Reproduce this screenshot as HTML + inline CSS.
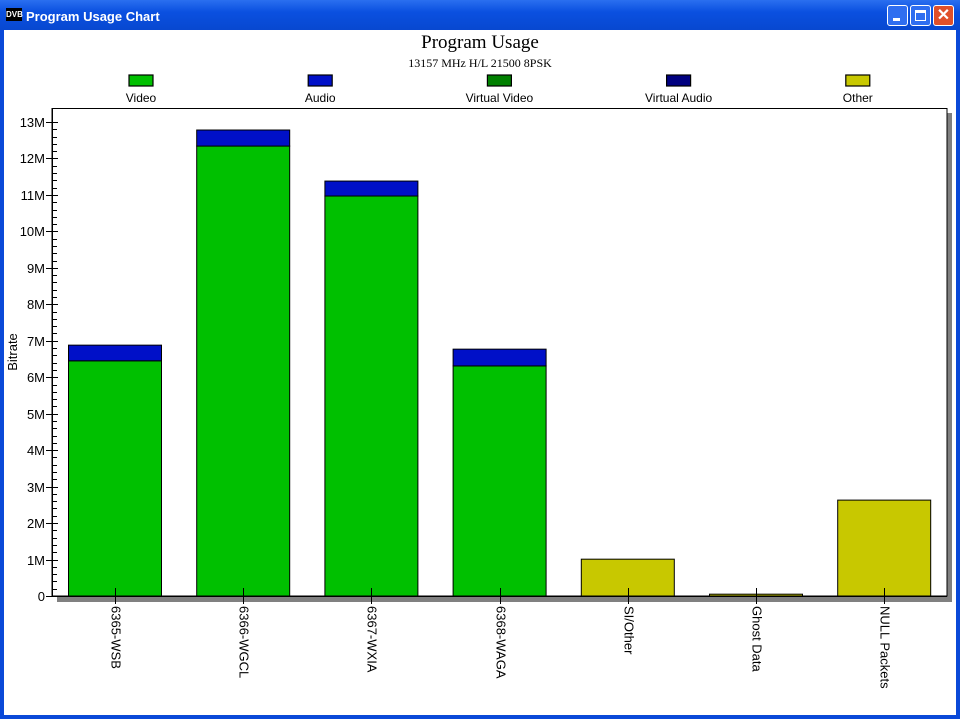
<!DOCTYPE html>
<html><head><meta charset="utf-8"><style>
body{margin:0;width:960px;height:719px;overflow:hidden;background:#fff;font-family:"Liberation Sans",sans-serif}
#win{position:absolute;left:0;top:0;width:960px;height:719px;background:#0a49d8}
#titlebar{position:absolute;left:0;top:0;width:960px;height:30px;background:linear-gradient(#2a6ff0,#0a50e0 40%,#0848d0);color:#fff;font:bold 13px "Liberation Sans",sans-serif}
#client{position:absolute;left:4px;top:30px;width:952px;height:685px;background:#fff}
.btn{position:absolute;top:5px;width:21px;height:21px;border:1px solid #fff;border-radius:3px;background:#2f6ef0;box-sizing:border-box}
</style></head><body>
<div id="win">
<div id="titlebar">
<div style="position:absolute;left:6px;top:8px;width:16px;height:13px;background:#000;color:#fff;font-size:8px;line-height:13px;text-align:center">DVB</div>
<div style="position:absolute;left:26px;top:9px">Program Usage Chart</div>
<div class="btn" style="left:887px"><div style="position:absolute;left:5px;top:12px;width:7px;height:3px;background:#fff"></div></div>
<div class="btn" style="left:910px"><div style="position:absolute;left:4px;top:4px;width:11px;height:11px;border:1px solid #fff;border-top-width:3px;box-sizing:border-box"></div></div>
<div class="btn" style="left:933px;background:#e0502a;color:#fff;font-size:16px;line-height:19px;text-align:center">✕</div>
</div>
<div id="client"></div>
<svg id="chart" width="960" height="719" style="position:absolute;left:0;top:0"></svg>
</div>
<script>
const categories=["6365-WSB","6366-WGCL","6367-WXIA","6368-WAGA","SI/Other","Ghost Data","NULL Packets"];
const videoVals=[6.45,12.34,10.97,6.31,0,0,0];
const audioVals=[0.43,0.44,0.41,0.46,0,0,0];
const otherVals=[0,0,0,0,1.01,0.05,2.63];
const yTicks=[0,1,2,3,4,5,6,7,8,9,10,11,12,13];
const legendItems=[["Video","#00c000"],["Audio","#0010c8"],["Virtual Video","#008000"],["Virtual Audio","#000080"],["Other","#c8c800"]];
const NS="http://www.w3.org/2000/svg";
const svg=document.getElementById('chart');
function mk(t,a,txt){const e=document.createElementNS(NS,t);for(const k in a)e.setAttribute(k,a[k]);if(txt!==undefined)e.textContent=txt;svg.appendChild(e);return e;}
const X0=52,X1=947,Y0=596,YT=122;
function y(v){return Y0-(v/13)*(Y0-YT);}
function xc(i){return 115+i*128.2;}
let e;
e=mk('text',{x:480,y:48,'text-anchor':'middle','font-family':'Liberation Serif,serif','font-size':19},'Program Usage');

e=mk('text',{x:480,y:67,'text-anchor':'middle','font-family':'Liberation Serif,serif','font-size':12},'13157 MHz H/L 21500 8PSK');

legendItems.forEach((l,i)=>{const cx=141+i*179.2;
e=mk('rect',{x:cx-12,y:75,width:24,height:11,fill:l[1],stroke:'#000','stroke-width':1.2});

e=mk('text',{x:cx,y:102,'text-anchor':'middle','font-size':12},l[0]);
});
e=mk('rect',{x:X0+5,y:113,width:X1-X0,height:Y0-108+1,fill:'#808080'});

e=mk('rect',{x:X0,y:108.5,width:X1-X0,height:Y0-108.5,fill:'#fff',stroke:'#000','stroke-width':1});

for(let v=0;v<=13;v+=0.2){const yy=Math.round(y(v))+0.5;e=mk('line',{x1:X0,x2:57,y1:yy,y2:yy,stroke:'#000'});
}
yTicks.forEach(t=>{const yy=Math.round(y(t))+0.5;
e=mk('line',{x1:46,x2:58,y1:yy,y2:yy,stroke:'#000'});
e=mk('text',{x:45,y:yy+4.5,'text-anchor':'end','font-size':13},t===0?'0':t+'M');});
e=mk('text',{x:17,y:352,'text-anchor':'middle','font-size':13,transform:'rotate(-90 17 352)'},'Bitrate');

categories.forEach((c,i)=>{const x=xc(i)-46.5,w=93;
if(videoVals[i]>0){e=mk('rect',{x:x,y:y(videoVals[i]),width:w,height:Y0-y(videoVals[i]),fill:'#00c000',stroke:'#000','stroke-width':1});
}
if(audioVals[i]>0){const t=videoVals[i]+audioVals[i];e=mk('rect',{x:x,y:y(t),width:w,height:y(videoVals[i])-y(t),fill:'#0010c8',stroke:'#000','stroke-width':1});
}
if(otherVals[i]>0){e=mk('rect',{x:x,y:y(otherVals[i]),width:w,height:Math.max(1,Y0-y(otherVals[i])),fill:'#c8c800',stroke:'#000','stroke-width':1});
}
const cx=Math.round(xc(i))+0.5;
e=mk('line',{x1:cx,x2:cx,y1:Y0-8,y2:Y0+8,stroke:'#000'});
e=mk('text',{x:cx-4,y:Y0+10,'font-size':13,transform:`rotate(90 ${cx-4} ${Y0+10})`},c);
});
e=mk('line',{x1:X0,x2:X1,y1:Y0+0.5,y2:Y0+0.5,stroke:'#000'});
e=mk('line',{x1:X0+0.5,x2:X0+0.5,y1:108,y2:Y0+1,stroke:'#000'});
</script>
</body></html>
